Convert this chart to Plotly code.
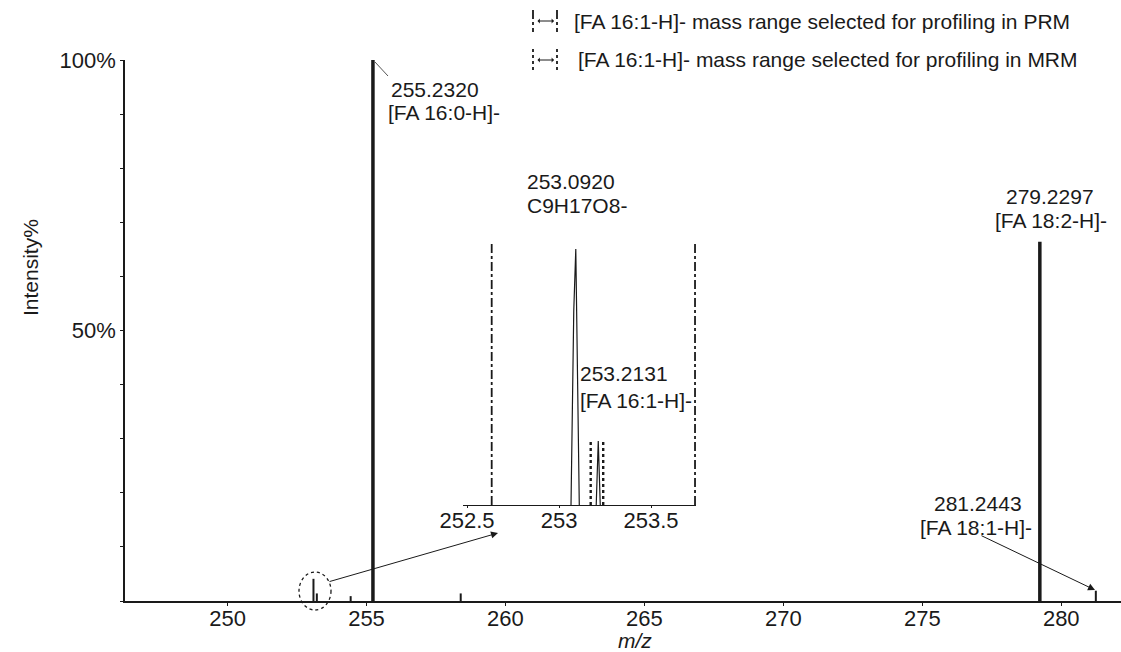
import plotly.graph_objects as go

W, H = 1121, 652
FONT = "Liberation Sans, Arial, sans-serif"
INK = "#1a1a1a"

# Centroided peaks of the full spectrum (m/z, relative intensity %)
peak_mz = [253.0920, 253.2131, 254.43, 255.2320, 258.39, 279.2297, 281.2443]
peak_int = [4.1, 1.4, 0.9, 100.0, 1.4, 66.4, 1.9]
peak_major = [False, False, False, True, False, True, False]

# Profile data of the zoomed region around m/z 253
inset_mz_a = [253.065, 253.080, 253.091, 253.110]
inset_int_a = [0, 76, 100, 0]
inset_mz_b = [253.202, 253.2131, 253.224]
inset_int_b = [0, 25, 0]

# Isolation windows for [FA 16:1-H]-
prm_window = [252.634, 253.739]
prm_height = 102
mrm_window = [253.172, 253.240]
mrm_height = 25

# Axis ticks
x_ticks = [250, 255, 260, 265, 270, 275, 280]
y_ticks = [50, 100]
y_ticktext = ["50%", "100%"]
inset_ticks = [252.5, 253, 253.5]
inset_ticktext = ["252.5", "253", "253.5"]

# Peak annotation names
lbl_16_0 = "[FA 16:0-H]-"
lbl_c9 = "C9H17O8-"
lbl_18_2 = "[FA 18:2-H]-"
lbl_16_1 = "[FA 16:1-H]-"
lbl_18_1 = "[FA 18:1-H]-"
legend_prm = "[FA 16:1-H]- mass range selected for profiling in PRM"
legend_mrm = "[FA 16:1-H]- mass range selected for profiling in MRM"


def px(x):
    return x / W


def py(y):
    return 1 - y / H


fig = go.Figure()

# Stick spectrum: thin and thick peaks
for is_major, width in ((False, 2), (True, 3.5)):
    xs, ys = [], []
    for mz, inten, m in zip(peak_mz, peak_int, peak_major):
        if m == is_major:
            xs += [mz, mz, None]
            ys += [0, inten, None]
    fig.add_trace(go.Scatter(x=xs, y=ys, mode="lines", line=dict(color=INK, width=width),
                             hoverinfo="skip", showlegend=False))

# Inset profile
fig.add_trace(go.Scatter(x=inset_mz_a + [None] + inset_mz_b,
                         y=inset_int_a + [None] + inset_int_b,
                         mode="lines", line=dict(color=INK, width=1.2),
                         xaxis="x2", yaxis="y2", showlegend=False, hoverinfo="skip"))

# PRM window (dash-dot) and MRM window (dotted)
for lo_hi, h, dash, w in ((prm_window, prm_height, "dashdot", 1.8), (mrm_window, mrm_height, "dot", 2.4)):
    xs, ys = [], []
    for v in lo_hi:
        xs += [v, v, None]
        ys += [0, h, None]
    fig.add_trace(go.Scatter(x=xs, y=ys, mode="lines", line=dict(color=INK, width=w, dash=dash),
                             xaxis="x2", yaxis="y2", showlegend=False, hoverinfo="skip"))

x_dom = [125 / W, 1.0]
y_dom = [py(601), py(60)]
inset_range = [252.478, 253.745]
inset_px_per = 184
inset_x0 = 463
inset_x1 = inset_x0 + (inset_range[1] - inset_range[0]) * inset_px_per

axis_common = dict(showgrid=False, zeroline=False, showline=True, linecolor=INK, linewidth=1.5,
                   automargin=False, ticks="outside", tickcolor=INK,
                   tickfont=dict(family=FONT, size=22, color=INK))

fig.update_layout(
    width=W, height=H, autosize=False,
    margin=dict(l=0, r=0, t=0, b=0),
    paper_bgcolor="white", plot_bgcolor="white",
    font=dict(family=FONT, size=22, color=INK),
    xaxis=dict(domain=x_dom, range=[246.31, 282.15], tickvals=x_ticks, ticklen=3,
               ticklabelstandoff=-6, **axis_common),
    yaxis=dict(domain=y_dom, range=[0, 100], tickvals=y_ticks, ticktext=y_ticktext, ticklen=3,
               minor=dict(dtick=10, ticks="outside", ticklen=3, tickcolor=INK), **axis_common),
    xaxis2=dict(domain=[px(inset_x0), px(inset_x1)], range=inset_range, anchor="y2",
                tickvals=inset_ticks, ticktext=inset_ticktext, ticklen=2, ticklabelstandoff=-6,
                **{**axis_common, "linewidth": 1}),
    yaxis2=dict(domain=[py(505), py(505 - 256 * 1.025)], range=[0, 102.5], anchor="x2",
                visible=False, automargin=False),
)

ann = []


def line(x, y, text, anchor="left", size=21, **kw):
    d = dict(x=px(x), y=py(y), text=text, xanchor=anchor, xref="paper", yref="paper",
             showarrow=False, yanchor="middle", font=dict(family=FONT, size=size, color=INK))
    d.update(kw)
    ann.append(d)


# Peak labels, one annotation per text line
line(389, 89, f"{peak_mz[3]:.4f}")
line(386, 112, lbl_16_0)
line(525, 182, f"{peak_mz[0]:.4f}")
line(525, 205, lbl_c9)
line(1050, 197, f"{peak_mz[5]:.4f}", "center")
line(1051, 221, lbl_18_2, "center")
line(578, 373, f"{peak_mz[1]:.4f}")
line(578, 400, lbl_16_1)
line(978, 503, f"{peak_mz[6]:.4f}", "center")
line(976, 527, lbl_18_1, "center")

# Axis titles
line(635, 640, "<i>m/z</i>", "center")
line(30, 268, "Intensity%", "center", textangle=-90)

# Legend texts
line(572, 21, legend_prm)
line(576, 59, legend_mrm)

# Arrows: zoom link and [FA 18:1-H]- pointer
arrows = [
    dict(x=px(498), y=py(533), ax=328 - 498, ay=582 - 533),
    dict(x=px(1095), y=py(590), ax=980 - 1095, ay=535 - 590),
    # legend double-headed arrows
    dict(x=px(554), y=py(21), ax=-18, ay=0, arrowside="end+start", arrowhead=1, arrowsize=0.8),
    dict(x=px(554), y=py(60), ax=-18, ay=0, arrowside="end+start", arrowhead=1, arrowsize=0.8),
]
for a in arrows:
    a.setdefault("arrowhead", 2)
    a.setdefault("arrowsize", 1.4)
    a.update(xref="paper", yref="paper", axref="pixel", ayref="pixel", text="", showarrow=True,
             arrowwidth=1, arrowcolor=INK)
    ann.append(a)

fig.update_layout(annotations=ann)

shapes = [
    # dotted ellipse around the m/z 253 cluster
    dict(type="circle", xref="paper", yref="paper", x0=px(299), x1=px(331), y0=py(610), y1=py(572),
         line=dict(color=INK, width=1.3, dash="dot")),
    # leader line from base peak to its label
    dict(type="line", xref="paper", yref="paper", x0=px(375), y0=py(62), x1=px(388), y1=py(76),
         line=dict(color="#555", width=1)),
]
# legend bar markers
for yc, dash in ((21, "dashdot"), (60, "dot")):
    for xb in (533, 557):
        shapes.append(dict(type="line", xref="paper", yref="paper", x0=px(xb), x1=px(xb),
                           y0=py(yc - 11), y1=py(yc + 11), line=dict(color=INK, width=1.8, dash=dash)))
fig.update_layout(shapes=shapes)

fig.write_html("out.html")
